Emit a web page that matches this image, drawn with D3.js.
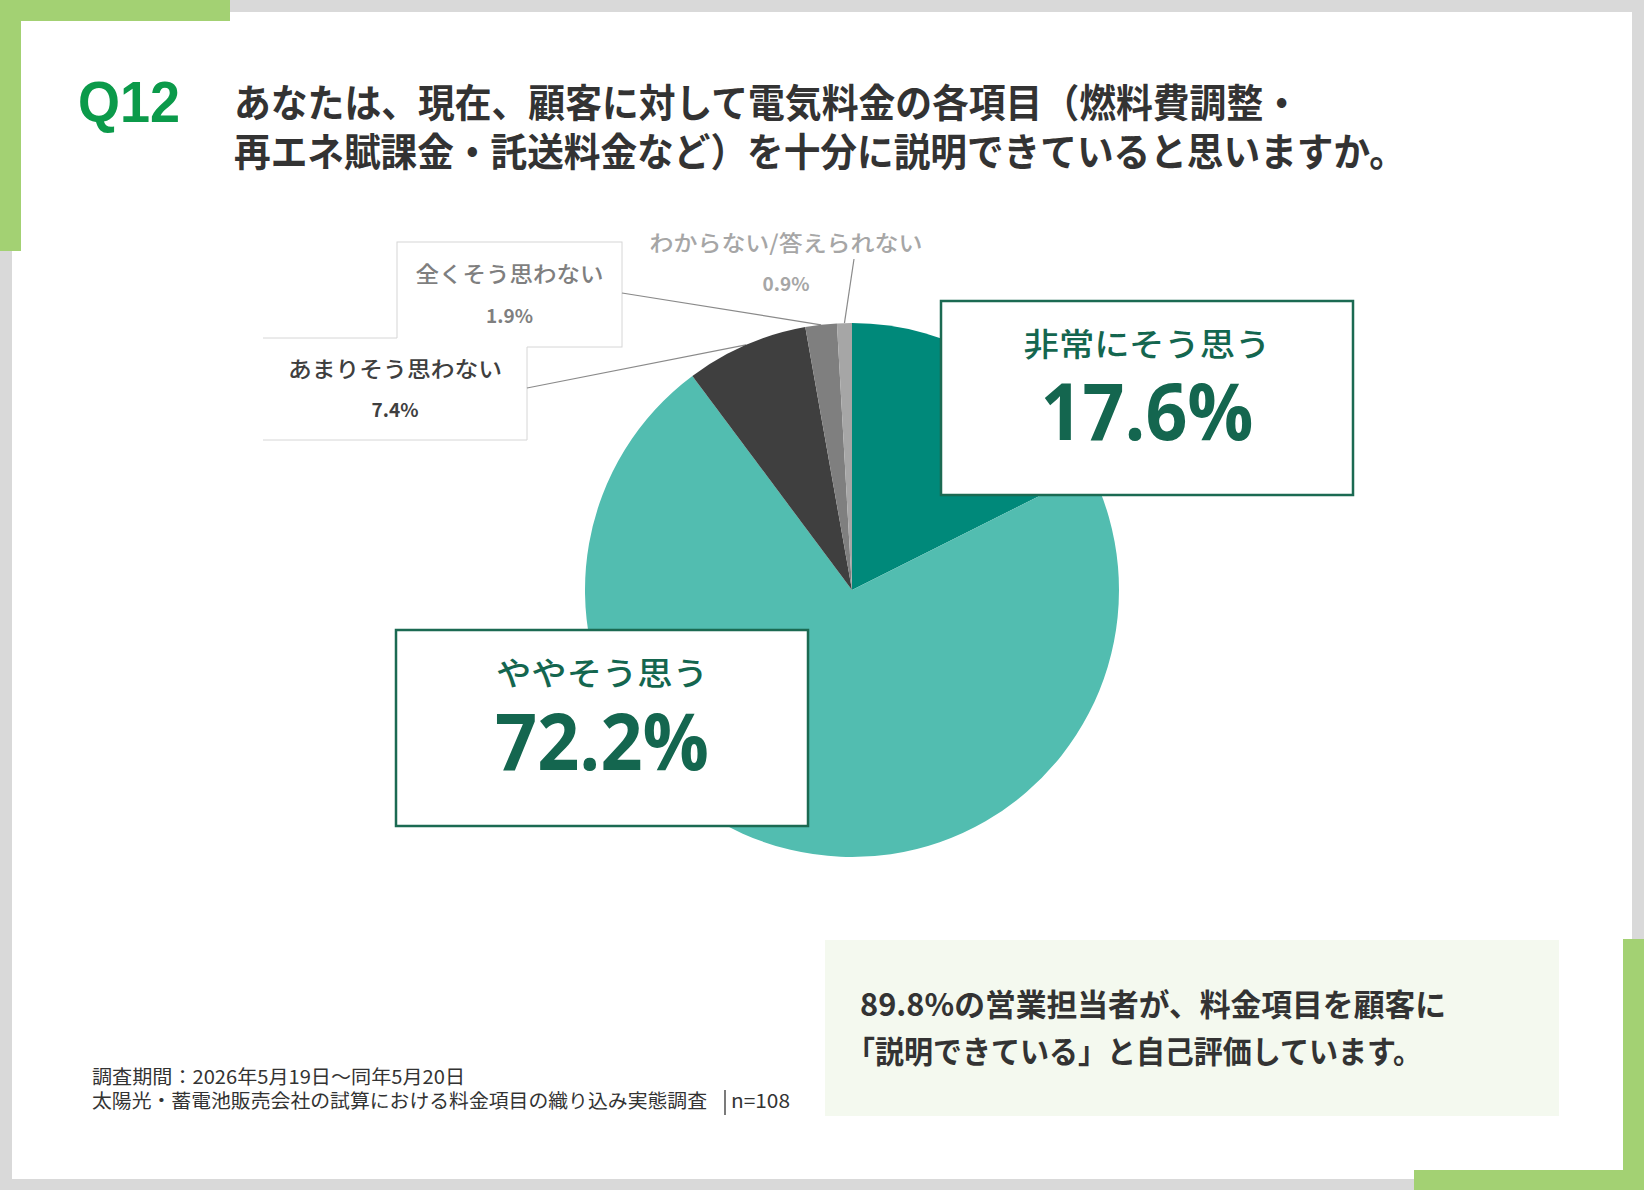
<!DOCTYPE html>
<html lang="ja">
<head>
<meta charset="utf-8">
<script src="https://cdn.jsdelivr.net/npm/d3@7"></script>
<style>
  html, body { margin: 0; padding: 0; background: #d9d9d9; }
  svg { display: block; }
</style>
</head>
<body>
<div id="chart"></div>
<script>
// data
const questionNo = "Q12";
const titleLines = [
  "あなたは、現在、顧客に対して電気料金の各項目（燃料費調整・",
  "再エネ賦課金・託送料金など）を十分に説明できていると思いますか。"
];
const categories = [
  "非常にそう思う",
  "ややそう思う",
  "あまりそう思わない",
  "全くそう思わない",
  "わからない/答えられない"
];
const shares = [17.6, 72.2, 7.4, 1.9, 0.9];
const summaryLines = [
  "89.8%の営業担当者が、料金項目を顧客に",
  "「説明できている」と自己評価しています。"
];
const footerLines = [
  "調査期間：2026年5月19日～同年5月20日",
  "太陽光・蓄電池販売会社の試算における料金項目の織り込み実態調査"
];
const sampleSize = "n=108";

const W = 1644, H = 1190;
const JP = "'Noto Sans CJK JP', 'Noto Sans', sans-serif";
const sliceColors = ["#00897a", "#52bdb0", "#3f3f3f", "#7f7f7f", "#a6a6a6"];

const svg = d3.select("#chart").append("svg")
  .attr("width", W)
  .attr("height", H);

// frame: grey page, white panel, green corner brackets
svg.append("rect").attr("width", W).attr("height", H).attr("fill", "#d9d9d9");
svg.append("rect").attr("x", 12).attr("y", 12).attr("width", 1620).attr("height", 1167).attr("fill", "#fff");
const green = "#a3d173";
[[0, 0, 230, 21], [0, 0, 21, 251], [1623, 939, 21, 251], [1414, 1170, 230, 20]].forEach(r => {
  svg.append("rect").attr("x", r[0]).attr("y", r[1]).attr("width", r[2]).attr("height", r[3]).attr("fill", green);
});

function fitText(sel, len) {
  return sel.attr("textLength", len).attr("lengthAdjust", "spacingAndGlyphs");
}

// heading
fitText(svg.append("text")
  .attr("x", 78).attr("y", 122)
  .attr("font-family", "'Liberation Sans', Arial, sans-serif")
  .attr("font-weight", 700)
  .attr("font-size", 58)
  .attr("fill", "#0b9a4a")
  .text(questionNo), 102);

const titleLens = [1066, 1172];
titleLines.forEach((t, i) => {
  fitText(svg.append("text")
    .attr("x", 234).attr("y", 117 + i * 49)
    .attr("font-family", JP)
    .attr("font-weight", 700)
    .attr("font-size", 39)
    .attr("fill", "#333")
    .text(t), titleLens[i]);
});

// pie
const cx = 852, cy = 590, radius = 267;
const pie = d3.pie().value(d => d).sort(null);
const arcs = pie(shares);
const arc = d3.arc().innerRadius(0).outerRadius(radius);
const edge = d3.arc().innerRadius(radius).outerRadius(radius);

// label layout per category (index matches categories)
const layout = [
  { kind: "big", x: 941, y: 301, w: 412, h: 194, labelY: 356, valueY: 440, labelLen: 247, valueLen: 213 },
  { kind: "big", x: 396, y: 630, w: 412, h: 196, labelY: 685, valueY: 770, labelLen: 212, valueLen: 214 },
  { kind: "small", x: 263, y: 338, w: 264, h: 102, labelY: 377, valueY: 417, labelLen: 214, from: [527, 388] },
  { kind: "small", x: 397, y: 242, w: 225, h: 105, labelY: 282, valueY: 323, labelLen: 188, from: [622, 293] },
  { kind: "free", cxText: 786, labelY: 251, valueY: 291, labelLen: 273, from: [854, 259] }
];

const smallGroup = svg.append("g");
const boxLine = "#d6d6d6";

// "全く" box first, the "あまり" box overlaps its lower-left corner
const bA = layout[2], bB = layout[3];
smallGroup.append("rect")
  .attr("x", bB.x).attr("y", bB.y).attr("width", bB.w).attr("height", bB.h)
  .attr("fill", "#fff").attr("stroke", boxLine).attr("stroke-width", 1);
smallGroup.append("rect")
  .attr("x", bA.x).attr("y", bA.y).attr("width", bA.w).attr("height", bA.h)
  .attr("fill", "#fff");
smallGroup.append("path")
  .attr("d", `M${bA.x},${bA.y}H${bB.x}M${bA.x + bA.w},${bB.y + bB.h}V${bA.y + bA.h}H${bA.x}`)
  .attr("fill", "none").attr("stroke", boxLine).attr("stroke-width", 1);

// leader lines for the thin slices
[2, 3, 4].forEach(i => {
  const p = edge.centroid(arcs[i]);
  smallGroup.append("line")
    .attr("x1", layout[i].from[0]).attr("y1", layout[i].from[1])
    .attr("x2", cx + p[0]).attr("y2", cy + p[1])
    .attr("stroke", "#8a8a8a").attr("stroke-width", 1.2);
});

[2, 3, 4].forEach(i => {
  const L = layout[i];
  const tx = L.kind === "free" ? L.cxText : L.x + L.w / 2;
  fitText(smallGroup.append("text")
    .attr("x", tx).attr("y", L.labelY)
    .attr("text-anchor", "middle")
    .attr("font-family", JP)
    .attr("font-weight", 500)
    .attr("font-size", 22)
    .attr("fill", sliceColors[i])
    .text(categories[i]), L.labelLen);
  smallGroup.append("text")
    .attr("x", tx).attr("y", L.valueY)
    .attr("text-anchor", "middle")
    .attr("font-family", JP)
    .attr("font-weight", 700)
    .attr("font-size", 19)
    .attr("fill", sliceColors[i])
    .text(shares[i].toFixed(1) + "%");
});

const pieGroup = svg.append("g").attr("transform", `translate(${cx},${cy})`);
pieGroup.selectAll("path")
  .data(arcs)
  .enter().append("path")
  .attr("d", arc)
  .attr("fill", (d, i) => sliceColors[i]);

// big callouts for the two main answers
const calloutInk = "#14664f";
[0, 1].forEach(i => {
  const L = layout[i];
  const g = svg.append("g");
  g.append("rect")
    .attr("x", L.x).attr("y", L.y).attr("width", L.w).attr("height", L.h)
    .attr("fill", "#fff").attr("stroke", "#1b6a52").attr("stroke-width", 2.5);
  fitText(g.append("text")
    .attr("x", L.x + L.w / 2).attr("y", L.labelY)
    .attr("text-anchor", "middle")
    .attr("font-family", JP)
    .attr("font-weight", 500)
    .attr("font-size", 32)
    .attr("fill", calloutInk)
    .text(categories[i]), L.labelLen);
  fitText(g.append("text")
    .attr("x", L.x + L.w / 2).attr("y", L.valueY)
    .attr("text-anchor", "middle")
    .attr("font-family", "'Open Sans', 'Noto Sans', sans-serif")
    .attr("font-weight", 700)
    .attr("font-size", 78)
    .attr("fill", calloutInk)
    .text(shares[i].toFixed(1) + "%"), L.valueLen);
});

// summary panel
svg.append("rect")
  .attr("x", 825).attr("y", 940).attr("width", 734).attr("height", 176)
  .attr("fill", "#f4f9ef");
const summaryX = [860, 846], summaryLen = [586, 576];
summaryLines.forEach((t, i) => {
  fitText(svg.append("text")
    .attr("x", summaryX[i]).attr("y", 1016 + i * 47)
    .attr("font-family", JP)
    .attr("font-weight", 700)
    .attr("font-size", 31)
    .attr("fill", "#333")
    .text(t), summaryLen[i]);
});

// footnote
const footLen = [373, 615];
footerLines.forEach((t, i) => {
  fitText(svg.append("text")
    .attr("x", 92).attr("y", 1084 + i * 24)
    .attr("font-family", JP)
    .attr("font-size", 19)
    .attr("fill", "#333")
    .text(t), footLen[i]);
});
svg.append("line")
  .attr("x1", 725).attr("x2", 725).attr("y1", 1090).attr("y2", 1115)
  .attr("stroke", "#333").attr("stroke-width", 1.3);
fitText(svg.append("text")
  .attr("x", 731).attr("y", 1108)
  .attr("font-family", JP)
  .attr("font-size", 19)
  .attr("fill", "#333")
  .text(sampleSize), 59);
</script>
</body>
</html>
